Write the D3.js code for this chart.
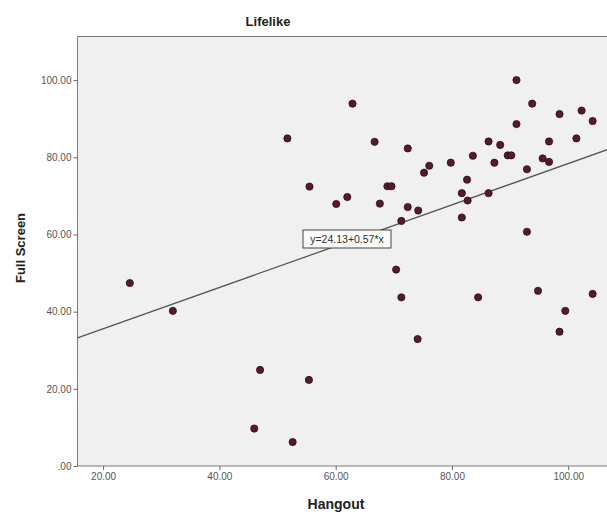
<!DOCTYPE html>
<html>
<head>
<meta charset="utf-8">
<script src="https://cdn.jsdelivr.net/npm/d3@7"></script>
<style>
  body { margin: 0; background: #fff; overflow: hidden; }
  svg { display: block; font-family: "Liberation Sans", Arial, sans-serif; }
</style>
</head>
<body>
<div id="chart"></div>
<script>
// values
var hangout = [24.6, 32.0, 46.0, 47.0, 52.6, 51.7, 55.4, 55.5, 60.1, 62.0,
               62.9, 66.7, 67.6, 68.9, 69.6, 70.4, 71.3, 71.3, 72.4, 72.4,
               74.2, 74.1, 75.2, 76.1, 79.8, 81.7, 81.7, 82.6, 82.7, 83.6,
               84.5, 86.3, 86.3, 87.3, 88.3, 89.6, 90.2, 91.1, 91.1, 92.9,
               92.9, 93.8, 94.8, 95.6, 96.7, 96.7, 98.5, 98.5, 99.5, 101.4,
               102.3, 104.2, 104.2];
var fullScreen = [47.4, 40.2, 9.7, 24.9, 6.2, 84.9, 22.3, 72.4, 67.9, 69.7,
                  93.9, 84.0, 68.0, 72.5, 72.5, 50.9, 63.5, 43.7, 82.3, 67.1,
                  66.2, 32.9, 76.0, 77.8, 78.6, 70.7, 64.4, 74.2, 68.8, 80.4,
                  43.7, 84.1, 70.7, 78.6, 83.2, 80.5, 80.5, 100.0, 88.6, 76.9,
                  60.7, 93.9, 45.4, 79.7, 84.1, 78.8, 91.2, 34.8, 40.2, 84.9,
                  92.1, 89.4, 44.6];

// fit line as drawn (ends at the frame edges)
var fitX = [15.6, 107.7];
var fitY = [33.2, 82.5];
var fitLabel = "y=24.13+0.57*x";

var xTicks = [20, 40, 60, 80, 100];
var yTicks = [0, 20, 40, 60, 80, 100];

var W = 607, H = 519;
var margin = {top: 36.5, left: 77.5, bottom: 53, right: -6};
var width = W - margin.left - margin.right;
var height = H - margin.top - margin.bottom;

var svg = d3.select("#chart").append("svg")
    .attr("width", W).attr("height", H);

var x = d3.scaleLinear().domain([15.6, 107.7]).range([0, width]);
var y = d3.scaleLinear().domain([0, 111.3]).range([height, 0]);

var fmt = function(d){ return d === 0 ? ".00" : d.toFixed(2); };

var g = svg.append("g")
    .attr("transform", "translate(" + margin.left + "," + margin.top + ")");

// plot background (the right side runs off the picture, so no right frame)
g.append("rect")
    .attr("width", width + 20).attr("height", height)
    .attr("fill", "#f0f0f0");
g.append("path")
    .attr("d", "M" + (width + 20) + ",0H0V" + height + "H" + (width + 20))
    .attr("fill", "none")
    .attr("stroke", "#7a7a7a").attr("stroke-width", 1);

// axes
var xAxis = g.append("g").attr("transform", "translate(0," + height + ")")
    .call(d3.axisBottom(x).tickValues(xTicks).tickFormat(fmt).tickSize(4).tickSizeOuter(0).tickPadding(3));
var yAxis = g.append("g")
    .call(d3.axisLeft(y).tickValues(yTicks).tickFormat(fmt).tickSize(4).tickSizeOuter(0).tickPadding(2));

[xAxis, yAxis].forEach(function(a){
  a.select(".domain").remove();
  a.selectAll(".tick line").attr("stroke", "#666");
  a.selectAll(".tick text").attr("fill", "#555")
    .style("font-size", "10px")
    .style("font-family", "'Liberation Sans', Arial, sans-serif");
});

// fit line
var line = d3.line().x(function(d){ return x(d[0]); }).y(function(d){ return y(d[1]); });
g.append("path")
    .attr("d", line(d3.zip(fitX, fitY)))
    .attr("fill", "none")
    .attr("stroke", "#555")
    .attr("stroke-width", 1.3);

// points
g.selectAll("circle.pt")
    .data(d3.zip(hangout, fullScreen))
    .enter().append("circle")
    .attr("class", "pt")
    .attr("cx", function(d){ return x(d[0]); })
    .attr("cy", function(d){ return y(d[1]); })
    .attr("r", 3.6)
    .attr("fill", "#561a28")
    .attr("stroke", "#2a0f15")
    .attr("stroke-width", 0.8);

// equation label box
var lab = g.append("g").attr("transform", "translate(" + (303 - margin.left) + "," + (230 - margin.top) + ")");
lab.append("rect")
    .attr("width", 88).attr("height", 18)
    .attr("fill", "#fafafa")
    .attr("stroke", "#444").attr("stroke-width", 1);
lab.append("text")
    .attr("x", 44).attr("y", 12.5)
    .attr("text-anchor", "middle")
    .style("font-size", "10.5px")
    .attr("fill", "#333")
    .text(fitLabel);

// titles
svg.append("text")
    .attr("x", 268).attr("y", 26)
    .attr("text-anchor", "middle")
    .style("font-size", "13px").style("font-weight", "bold")
    .attr("fill", "#222")
    .text("Lifelike");

svg.append("text")
    .attr("x", 336).attr("y", 509)
    .attr("text-anchor", "middle")
    .style("font-size", "14px").style("font-weight", "bold")
    .attr("fill", "#222")
    .text("Hangout");

svg.append("text")
    .attr("transform", "translate(25,248) rotate(-90)")
    .attr("text-anchor", "middle")
    .style("font-size", "13px").style("font-weight", "bold")
    .attr("fill", "#222")
    .text("Full Screen");
</script>
</body>
</html>
